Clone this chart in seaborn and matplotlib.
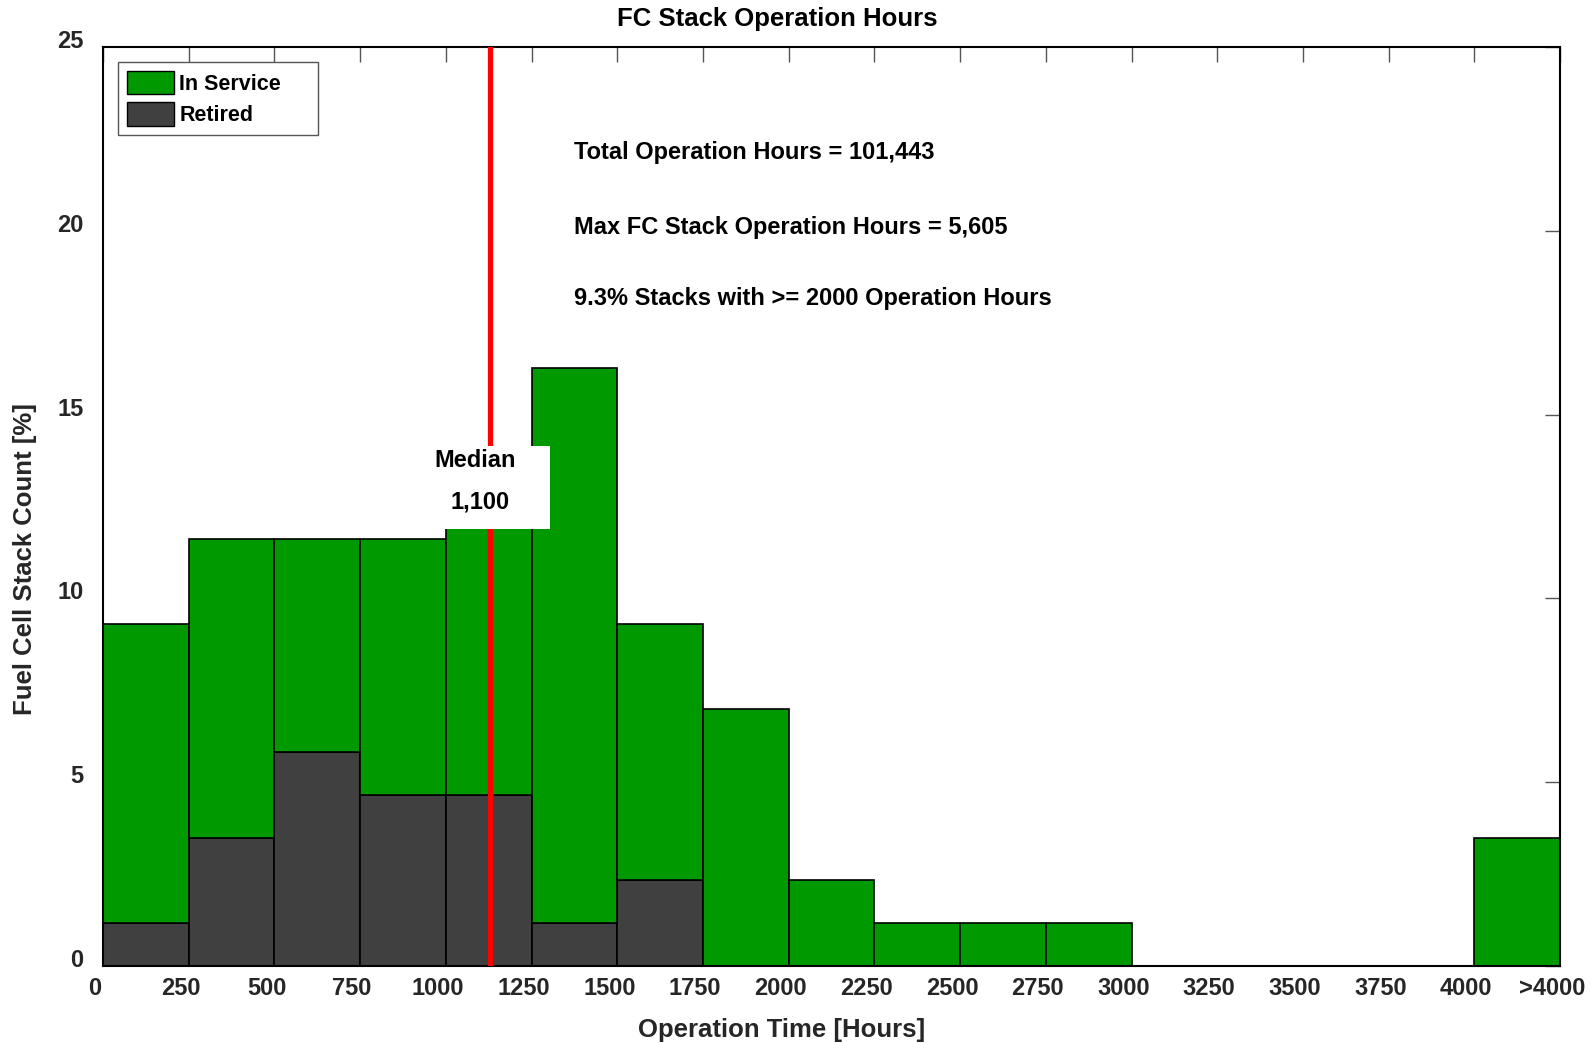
import numpy as np
import pandas as pd
import matplotlib.pyplot as plt
import seaborn as sns
from matplotlib.patches import Patch, Rectangle
from matplotlib.transforms import ScaledTranslation

# bins of 250 h, last one is ">4000"
bin_left = [0, 250, 500, 750, 1000, 1250, 1500, 1750, 2000,
            2250, 2500, 2750, 3000, 3250, 3500, 3750, 4000]
tick_labels = ['0', '250', '500', '750', '1000', '1250', '1500', '1750', '2000',
               '2250', '2500', '2750', '3000', '3250', '3500', '3750', '4000', '>4000']

# percent of stacks
in_service = [8.14, 8.14, 5.81, 6.98, 9.30, 15.12, 6.98, 6.98, 2.33,
              1.16, 1.16, 1.16, 0, 0, 0, 0, 3.49]
retired = [1.16, 3.49, 5.81, 4.65, 4.65, 1.16, 2.33, 0, 0,
           0, 0, 0, 0, 0, 0, 0, 0]

median_hours = 1100
median_line_x = 1130
stats_text = ['Total Operation Hours = 101,443',
              'Max FC Stack Operation Hours = 5,605',
              '9.3% Stacks with >= 2000 Operation Hours']

green = '#009900'
dark = '#404040'

sns.set_style('white')
plt.rcParams['font.family'] = ['Liberation Sans', 'DejaVu Sans']
plt.rcParams['font.weight'] = 'bold'

df = pd.DataFrame({
    'hours': [b + 125 for b in bin_left] * 2,
    'pct': in_service + retired,
    'status': ['In Service'] * len(bin_left) + ['Retired'] * len(bin_left),
})
edges = bin_left + [4250]

fig = plt.figure(figsize=(15.93, 10.43), dpi=100)
ax = fig.add_axes([0.0647, 0.0738, 0.9146, 0.8811])

sns.histplot(data=df, x='hours', weights='pct', hue='status', bins=edges,
             multiple='stack', hue_order=['In Service', 'Retired'],
             palette={'In Service': green, 'Retired': dark},
             alpha=1, edgecolor='black', linewidth=1.2, legend=False, ax=ax)

ax.axvline(median_line_x, color='red', lw=3.8, zorder=3)

# white box behind the median label
ax.add_patch(Rectangle((968, 11.89), 336, 2.26, facecolor='white',
                       edgecolor='none', zorder=4))
ax.text(1085, 13.74, 'Median', ha='center', va='center', fontsize=17,
        fontweight='bold', color='black', zorder=5)
ax.text(1100, 12.62, f'{median_hours:,}', ha='center', va='center', fontsize=17,
        fontweight='bold', color='black', zorder=5)

for s, y in zip(stats_text, [22.14, 20.1, 18.15]):
    ax.text(1374, y, s, ha='left', va='center', fontsize=17,
            fontweight='bold', color='black')

ax.set_xlim(0, 4250)
ax.set_ylim(0, 25)
ax.set_xticks(edges)
ax.set_xticklabels(tick_labels)
ax.set_yticks([0, 5, 10, 15, 20, 25])
ax.tick_params(direction='in', length=11, width=1, color='#555555',
               top=True, right=True, labelsize=17, labelcolor='#262626')
ax.tick_params(axis='x', pad=8)
ax.tick_params(axis='y', pad=14)
for lab in ax.get_xticklabels():
    lab.set_fontweight('bold')
    lab.set_transform(lab.get_transform() + ScaledTranslation(-0.08, 0, fig.dpi_scale_trans))
for lab in ax.get_yticklabels():
    lab.set_fontweight('bold')
    lab.set_transform(lab.get_transform() + ScaledTranslation(0, 0.08, fig.dpi_scale_trans))

for sp in ax.spines.values():
    sp.set_color('black')
    sp.set_linewidth(1.5)

ax.set_title('FC Stack Operation Hours', fontsize=18.5, fontweight='bold',
             color='black', x=0.4626, pad=15)
ax.set_xlabel('Operation Time [Hours]', fontsize=18.5, fontweight='bold', color='#262626')
ax.set_ylabel('Fuel Cell Stack Count [%]', fontsize=18.5, fontweight='bold', color='#262626')
ax.xaxis.set_label_coords(0.466, -0.0696)
ax.xaxis.label.set_va('center')
ax.yaxis.set_label_coords(-0.0533, 0.443)
ax.yaxis.label.set_va('center')

handles = [Patch(facecolor=green, edgecolor='black'),
           Patch(facecolor=dark, edgecolor='black')]
leg = ax.legend(handles, ['In Service', 'Retired'], loc='upper left',
                bbox_to_anchor=(0.0103, 0.8, 0.1373, 0.1837), mode='expand',
                borderaxespad=0, fancybox=False, framealpha=1, fontsize=15.5,
                handlelength=2.2, handleheight=1.3, handletextpad=0.25,
                labelspacing=0.35, borderpad=0.4)
leg.get_frame().set_edgecolor('#555555')
leg.get_frame().set_linewidth(1)
for t in leg.get_texts():
    t.set_fontweight('bold')
    t.set_color('black')

fig.savefig('out.png', dpi=100)
